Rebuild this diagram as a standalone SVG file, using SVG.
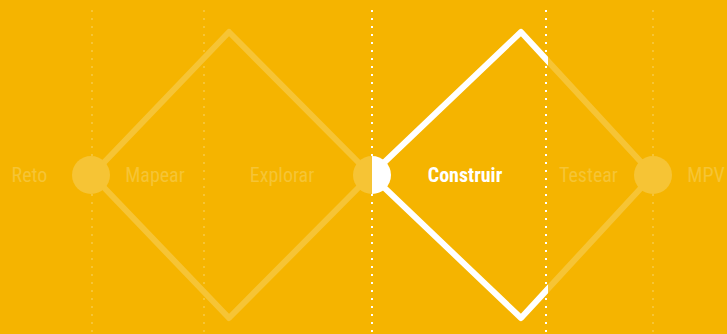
<svg xmlns="http://www.w3.org/2000/svg" width="727" height="334" viewBox="0 0 727 334">
<style>
.faded{fill:none;stroke:#F6C435;stroke-width:6;stroke-linejoin:round}
.active{fill:none;stroke:#FFFFFF;stroke-width:6;stroke-linejoin:round}
.dotf{stroke:#F6C435;stroke-width:2;stroke-dasharray:2 6}
.dotw{stroke:#FFFFFF;stroke-width:2;stroke-dasharray:2 6}
.lbl{font-family:"Liberation Sans Narrow","Roboto Condensed","DejaVu Sans Condensed","Liberation Sans",sans-serif;font-size:20px;fill:#F6C435;text-anchor:middle;dominant-baseline:central}
.lblw{fill:#FFFFFF;font-weight:bold}
</style>
<defs>
<clipPath id="leftOf"><rect x="0" y="0" width="548" height="334"/></clipPath>
<clipPath id="rightOf"><rect x="548" y="0" width="179" height="334"/></clipPath>
<clipPath id="halfL"><rect x="0" y="0" width="372" height="334"/></clipPath>
<clipPath id="halfR"><rect x="372" y="0" width="355" height="334"/></clipPath>
</defs>
<rect width="727" height="334" fill="#F5B400"/>
<g id="dotted-lines">
<line class="dotf" x1="92" y1="10" x2="92" y2="334"/>
<line class="dotf" x1="204" y1="10" x2="204" y2="334"/>
<line class="dotw" x1="372" y1="10" x2="372" y2="334"/>
<line class="dotw" x1="546" y1="10" x2="546" y2="334"/>
<line class="dotf" x1="653" y1="10" x2="653" y2="334"/>
</g>
<g id="connectors">
<path class="faded" d="M92,175 L229,32 L371,175 L229,318 Z"/>
<path class="faded" clip-path="url(#rightOf)" d="M371,175 L521,32 L653,175 L521,318 Z"/>
<path class="active" clip-path="url(#leftOf)" d="M371,175 L521,32 L653,175 L521,318 Z"/>
</g>
<g id="node-reto"><text class="lbl" x="29.5" y="175">Reto</text></g>
<g id="node-start"><circle cx="91" cy="175" r="19" fill="#F6C435"/></g>
<g id="node-mapear"><text class="lbl" x="155" y="175">Mapear</text></g>
<g id="node-explorar"><text class="lbl" x="282" y="175">Explorar</text></g>
<g id="node-mid">
<circle cx="372" cy="175" r="19" fill="#F6C435" clip-path="url(#halfL)"/>
<circle cx="372" cy="175" r="19" fill="#FFFFFF" clip-path="url(#halfR)"/>
</g>
<g id="node-construir"><text class="lbl lblw" x="465" y="175">Construir</text></g>
<g id="node-testear"><text class="lbl" x="588.5" y="175">Testear</text></g>
<g id="node-end"><circle cx="653" cy="175" r="19" fill="#F6C435"/></g>
<g id="node-mpv"><text class="lbl" x="706" y="175">MPV</text></g>
</svg>
